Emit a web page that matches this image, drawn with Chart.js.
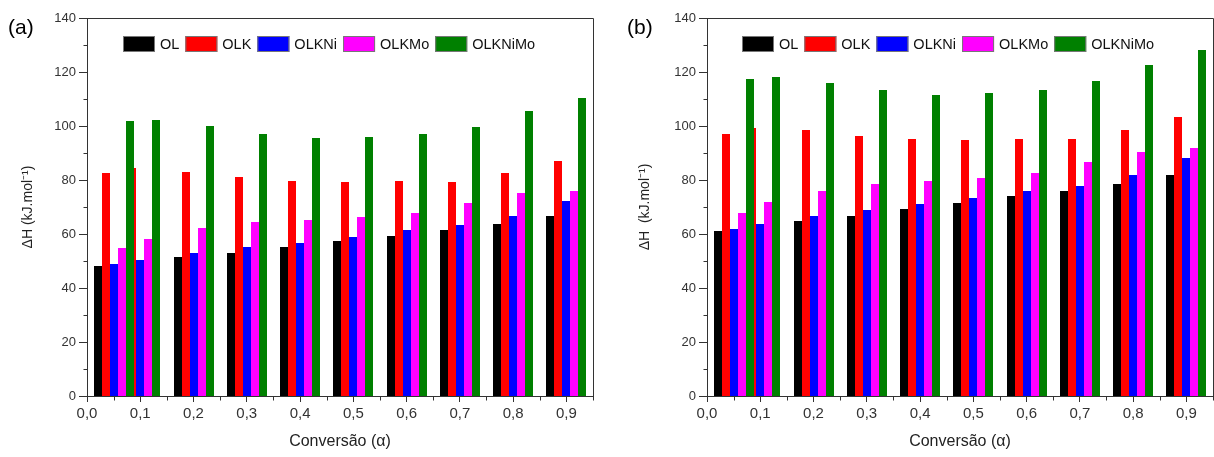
<!DOCTYPE html>
<html>
<head>
<meta charset="utf-8">
<script src="https://cdn.jsdelivr.net/npm/chart.js@4.4.1/dist/chart.umd.min.js"></script>
<style>
  body { margin: 0; background: #fff; }
  .panel { position: absolute; top: 0; }
</style>
</head>
<body>
<canvas id="chartA" class="panel" width="607" height="457" style="left:0"></canvas>
<canvas id="chartB" class="panel" width="607" height="457" style="left:607px"></canvas>
<script>
// conversion values (alpha) of each group
const alpha = [0.05, 0.1, 0.2, 0.3, 0.4, 0.5, 0.6, 0.7, 0.8, 0.9];
const seriesNames = ['OL', 'OLK', 'OLKNi', 'OLKMo', 'OLKNiMo'];
const seriesColors = ['#000000', '#ff0000', '#0000ff', '#ff00ff', '#008000'];

// panel (a) - delta H, kJ/mol
const olA      = [48.3, 49.5, 51.4, 52.9, 55.2, 57.3, 59.4, 61.4, 63.6, 66.6];
const olkA     = [82.7, 84.4, 83.1, 81.2, 79.8, 79.4, 79.7, 79.3, 82.7, 87.0];
const olkNiA   = [48.9, 50.4, 53.1, 55.1, 56.8, 58.9, 61.4, 63.3, 66.8, 72.4];
const olkMoA   = [54.7, 58.2, 62.1, 64.4, 65.1, 66.3, 67.6, 71.4, 75.1, 76.1];
const olkNiMoA = [101.7, 102.4, 100.1, 97.2, 95.5, 96.0, 96.9, 99.8, 105.6, 110.4];

// panel (b)
const olB      = [61.2, 62.5, 64.9, 66.7, 69.2, 71.5, 73.9, 75.9, 78.5, 81.7];
const olkB     = [97.1, 99.2, 98.5, 96.4, 95.3, 94.9, 95.3, 95.1, 98.7, 103.4];
const olkNiB   = [62.0, 63.8, 66.7, 68.9, 71.2, 73.5, 75.9, 77.9, 82.0, 88.0];
const olkMoB   = [67.8, 71.7, 76.1, 78.6, 79.7, 80.8, 82.5, 86.5, 90.4, 91.8];
const olkNiMoB = [117.4, 118.1, 116.0, 113.4, 111.6, 112.2, 113.4, 116.5, 122.7, 128.0];

const xTickStep = 0.1;
const yTickStep = 20;

const FONT = '"Liberation Sans", Arial, sans-serif';
const AXIS = '#333';

// paint the bar elements first-to-last (the 0.05 and 0.1 groups overlap,
// later series go on top), snapped to whole pixels so neighbours don't seam
const drawForward = {
  id: 'drawForward',
  beforeDatasetsDraw(chart) {
    const ctx = chart.ctx;
    ctx.save();
    chart.getSortedVisibleDatasetMetas().forEach(function (meta) {
      meta.data.forEach(function (bar) {
        const p = bar.getProps(['x', 'y', 'base', 'width'], true);
        const l = Math.round(p.x - p.width / 2);
        const r = Math.round(p.x + p.width / 2);
        const t = Math.round(p.y);
        const b = Math.round(p.base);
        ctx.fillStyle = bar.options.backgroundColor;
        ctx.fillRect(l, t, r - l, b - t);
      });
    });
    ctx.restore();
    return false;
  }
};

// box on top/right plus minor ticks halfway between major ones
const frameTicks = {
  id: 'frameTicks',
  afterDraw(chart) {
    const ctx = chart.ctx;
    const a = chart.chartArea;
    const x = chart.scales.x, y = chart.scales.y;
    const px = function (v) { return Math.round(v) + 0.5; };
    ctx.save();
    ctx.strokeStyle = AXIS;
    ctx.lineWidth = 1;
    ctx.beginPath();
    ctx.moveTo(px(a.left), px(a.top));
    ctx.lineTo(px(a.right), px(a.top));
    ctx.lineTo(px(a.right), px(a.bottom));
    for (let i = 0; i < x.ticks.length; i++) {
      const v = x.ticks[i].value + xTickStep / 2;
      if (v > x.max + 1e-9) break;
      const p = px(x.getPixelForValue(v));
      ctx.moveTo(p, px(a.bottom));
      ctx.lineTo(p, px(a.bottom) + 4);
    }
    for (let i = 0; i < y.ticks.length; i++) {
      const v = y.ticks[i].value + yTickStep / 2;
      if (v > y.max) break;
      const p = px(y.getPixelForValue(v));
      ctx.moveTo(px(a.left), p);
      ctx.lineTo(px(a.left) - 4, p);
    }
    ctx.stroke();
    ctx.restore();
  }
};

// one-row legend inside the plot, plus the panel letter
const innerLegend = {
  id: 'innerLegend',
  afterDraw(chart, args, opts) {
    const ctx = chart.ctx;
    const a = chart.chartArea;
    ctx.save();
    ctx.font = '14.5px ' + FONT;
    ctx.textBaseline = 'middle';
    let cx = a.left + opts.offsetX;
    const cy = a.top + 26;
    chart.data.datasets.forEach(function (ds) {
      ctx.fillStyle = ds.backgroundColor;
      ctx.fillRect(cx, cy - 8, 32, 16);
      ctx.strokeStyle = '#777';
      ctx.lineWidth = 1;
      ctx.strokeRect(cx + 0.5, cy - 7.5, 31, 15);
      ctx.fillStyle = '#111';
      ctx.fillText(ds.label, cx + 37, cy + 1);
      cx += 37 + ctx.measureText(ds.label).width + 6;
    });
    ctx.font = '21px ' + FONT;
    ctx.fillStyle = '#000';
    ctx.fillText(opts.panel, opts.panelX, 28);
    ctx.restore();
  }
};

function fmtAlpha(v) {
  return v.toFixed(1).replace('.', ',');
}

function makeChart(id, values, panel, yTitle, layout) {
  const datasets = seriesNames.map(function (name, i) {
    return {
      label: name,
      data: alpha.map(function (a, j) { return { x: a, y: values[i][j] }; }),
      backgroundColor: seriesColors[i],
      borderWidth: 0,
      categoryPercentage: 1.5,
      barPercentage: 1
    };
  });

  return new Chart(document.getElementById(id), {
    type: 'bar',
    data: { datasets: datasets },
    options: {
      responsive: false,
      animation: false,
      layout: { padding: { left: 0, right: layout.right, top: 18, bottom: 0 } },
      plugins: {
        legend: { display: false },
        tooltip: { enabled: false },
        innerLegend: { offsetX: layout.legendX, panel: panel, panelX: layout.panelX }
      },
      scales: {
        x: {
          type: 'linear',
          min: 0,
          max: 0.95,
          offset: false,
          afterFit: function (s) { s.height = 61; },
          grid: { display: true, offset: false, drawOnChartArea: false, tickLength: 6, color: AXIS },
          border: { display: true, color: AXIS, width: 1 },
          ticks: {
            stepSize: xTickStep,
            includeBounds: false,
            padding: 3,
            color: '#333',
            font: { family: FONT, size: 15 },
            callback: function (v) { return fmtAlpha(v); }
          },
          title: {
            display: true,
            text: 'Conversão (α)',
            color: '#222',
            font: { family: FONT, size: 16 },
            padding: { top: 0, bottom: 6 }
          }
        },
        y: {
          min: 0,
          max: 140,
          afterFit: function (s) { s.width = layout.axisWidth; },
          grid: { display: true, drawOnChartArea: false, tickLength: 8, color: AXIS },
          border: { display: true, color: AXIS, width: 1 },
          ticks: {
            stepSize: yTickStep,
            padding: 3,
            color: '#333',
            font: { family: FONT, size: 13 }
          },
          title: {
            display: true,
            text: yTitle,
            color: '#222',
            font: { family: FONT, size: 14 },
            padding: { top: layout.titlePad, bottom: 0 }
          }
        }
      }
    },
    plugins: [drawForward, frameTicks, innerLegend]
  });
}

makeChart('chartA', [olA, olkA, olkNiA, olkMoA, olkNiMoA], '(a)', 'ΔH (kJ.mol⁻¹)',
  { right: 14, axisWidth: 87, titlePad: 20, legendX: 36, panelX: 8 });
makeChart('chartB', [olB, olkB, olkNiB, olkMoB, olkNiMoB], '(b)', 'ΔH  (kJ.mol⁻¹)',
  { right: 1, axisWidth: 100, titlePad: 30, legendX: 35, panelX: 20 });
</script>
</body>
</html>
